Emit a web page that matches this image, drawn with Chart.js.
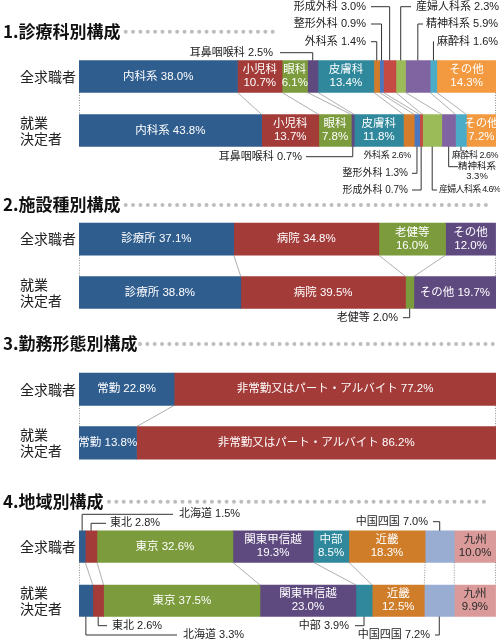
<!DOCTYPE html>
<html><head><meta charset="utf-8">
<script src="https://cdn.jsdelivr.net/npm/chart.js@4"></script>
<style>
html,body{margin:0;padding:0;background:#fff;width:500px;height:643px;overflow:hidden}
canvas{position:absolute;left:0}
</style></head><body>
<canvas id="c1" width="500" height="196" style="top:0px"></canvas>
<canvas id="c2" width="500" height="134" style="top:196px"></canvas>
<canvas id="c3" width="500" height="148" style="top:330px"></canvas>
<canvas id="c4" width="500" height="165" style="top:478px"></canvas>
<script>
// ---- data ----
const rowLabels = ['全求職者', ['就業', '決定者']];

const deptCategories = ['内科系','小児科','眼科','耳鼻咽喉科','皮膚科','外科系','整形外科','形成外科','産婦人科系','精神科系','麻酔科','その他'];
const deptAll   = [38.0, 10.7, 6.1, 2.5, 13.4, 1.4, 0.9, 3.0, 2.3, 5.9, 1.6, 14.3];
const deptHired = [43.8, 13.7, 7.8, 0.7, 11.8, 2.6, 1.3, 0.7, 4.6, 3.3, 2.6, 7.2];

const facilityCategories = ['診療所','病院','老健等','その他'];
const facilityAll   = [37.1, 34.8, 16.0, 12.0];
const facilityHired = [38.8, 39.5, 2.0, 19.7];

const workCategories = ['常勤','非常勤又はパート・アルバイト'];
const workAll   = [22.8, 77.2];
const workHired = [13.8, 86.2];

const regionCategories = ['北海道','東北','東京','関東甲信越','中部','近畿','中国四国','九州'];
const regionAll   = [1.5, 2.8, 32.6, 19.3, 8.5, 18.3, 7.0, 10.0];
const regionHired = [3.3, 2.6, 37.5, 23.0, 3.9, 12.5, 7.2, 9.9];

// ---- styles ----
const FONT = '"Liberation Sans", "Noto Sans CJK JP", sans-serif';
const CJK = '"Noto Sans CJK JP", sans-serif';

const deptColors = ['#2f5d8e','#a33b39','#7b9b3c','#5f4a80','#2f889c','#d27c2c','#4a78c0','#c44a43','#9bbb59','#8064a2','#4aacc6','#f3993f'];
const facilityColors = ['#2f5d8e','#a33b39','#7b9b3c','#5f4a80'];
const workColors = ['#2f5d8e','#a33b39'];
const regionColors = ['#2f5d8e','#a33b39','#7b9b3c','#5f4a80','#2f889c','#d07d2a','#99acd2','#d99a99'];

function pct(v){ return v.toFixed(1) + '%'; }

const sections = [
 { id:'c1', top:0, height:196, padTop:49.5, padBottom:38.5, thick:32,
   title:'1.診療科別構成', titleY:31.7, dotsFrom:125.7, dotsTo:273,
   categories:deptCategories, all:deptAll, hired:deptHired, colors:deptColors,
   inbar:[['one','two','two',null,'two',null,null,null,null,null,null,'two'],
          ['one','two','two',null,'two',null,null,null,null,null,null,'two']],
   textColors:null,
   callouts:[
     {seg:3,row:0,text:['耳鼻咽喉科 2.5%'],tx:273,ty:52.7,align:'right',lx:280,size:11},
     {seg:5,row:0,text:['外科系 1.4%'],tx:366,ty:41.7,align:'right',lx:371,size:11},
     {seg:6,row:0,text:['整形外科 0.9%'],tx:366,ty:24,align:'right',lx:371,size:11},
     {seg:7,row:0,text:['形成外科 3.0%'],tx:366,ty:6.7,align:'right',lx:371,size:11},
     {seg:8,row:0,text:['産婦人科系 2.3%'],tx:416,ty:6.7,align:'left',lx:411,size:11},
     {seg:9,row:0,text:['精神科系 5.9%'],tx:426,ty:24,align:'left',lx:423,size:11},
     {seg:10,row:0,text:['麻酔科 1.6%'],tx:437,ty:41.7,align:'left',lx:434,size:11},
     {seg:3,row:1,text:['耳鼻咽喉科 0.7%'],tx:302,ty:156.7,align:'right',lx:306,size:11},
     {seg:5,row:1,text:['外科系 2.6%'],tx:411,ty:155.5,align:'right',noLine:true,size:9,ls:-0.3},
     {seg:6,row:1,text:['整形外科 1.3%'],tx:408,ty:173.3,align:'right',lx:412,size:10},
     {seg:7,row:1,text:['形成外科 0.7%'],tx:408,ty:190,align:'right',lx:412,size:10},
     {seg:8,row:1,text:['産婦人科系 4.6%'],tx:439,ty:190,align:'left',lx:437,size:9,ls:-0.7},
     {seg:9,row:1,text:['精神科系','3.3%'],tx:477,ty:166.7,align:'center',lx:458,size:9.5,gap:9.5},
     {seg:10,row:1,text:['麻酔科 2.6%'],tx:452,ty:155.5,align:'left',stub:4,size:9,ls:-0.5}
   ]},
 { id:'c2', top:196, height:134, padTop:15.15, padBottom:10.85, thick:32,
   title:'2.施設種別構成', titleY:205, dotsFrom:125.7, dotsTo:488,
   categories:facilityCategories, all:facilityAll, hired:facilityHired, colors:facilityColors,
   inbar:[['one','one','two','two'],['one','one',null,'one']],
   textColors:null,
   callouts:[
     {seg:2,row:1,text:['老健等 2.0%'],tx:398,ty:317.7,align:'right',lx:403,size:11}
   ]},
 { id:'c3', top:330, height:148, padTop:32.4, padBottom:6.6, thick:32.5,
   title:'3.勤務形態別構成', titleY:344, dotsFrom:140, dotsTo:493,
   categories:workCategories, all:workAll, hired:workHired, colors:workColors,
   inbar:[['one','one'],['one','one']],
   textColors:null, callouts:[] },
 { id:'c4', top:478, height:165, padTop:41.45, padBottom:15.15, thick:31.5,
   title:'4.地域別構成', titleY:501.7, dotsFrom:109, dotsTo:488,
   categories:regionCategories, all:regionAll, hired:regionHired, colors:regionColors,
   inbar:[[null,null,'one','two','two','two',null,'two'],[null,null,'one','two',null,'two',null,'two']],
   textColors:['#fff','#fff','#fff','#fff','#fff','#fff','#fff','#2a2a2a'],
   callouts:[
     {seg:0,row:0,text:['北海道 1.5%'],tx:179,ty:514.3,align:'left',lx:173,size:11},
     {seg:1,row:0,text:['東北 2.8%'],tx:110,ty:523.3,align:'left',lx:106,size:11},
     {seg:6,row:0,text:['中国四国 7.0%'],tx:428,ty:521.7,align:'right',lx:433,size:11},
     {seg:1,row:1,text:['東北 2.6%'],tx:112,ty:625.7,align:'left',lx:107,size:11},
     {seg:0,row:1,text:['北海道 3.3%'],tx:183,ty:635,align:'left',lx:177,size:11},
     {seg:4,row:1,text:['中部 3.9%'],tx:349,ty:625.7,align:'right',lx:355,size:11},
     {seg:6,row:1,text:['中国四国 7.2%'],tx:430,ty:635,align:'right',lx:435,size:11}
   ]}
];

function overlay(cfg){
  return {
    id:'overlay_'+cfg.id,
    afterDatasetsDraw(chart){
      const ctx = chart.ctx;
      const area = chart.chartArea;
      const metas = chart.data.datasets.map((d,i)=>chart.getDatasetMeta(i));
      ctx.save();
      // title
      ctx.font = 'bold 17px ' + CJK;
      ctx.fillStyle = '#111';
      ctx.textBaseline = 'middle';
      ctx.textAlign = 'left';
      ctx.fillText(cfg.title, 3, cfg.titleY - cfg.top);
      // dots
      ctx.fillStyle = '#bdbdbd';
      for (let x = cfg.dotsFrom; x <= cfg.dotsTo + 0.1; x += 7.35) {
        ctx.beginPath(); ctx.arc(x, cfg.titleY - cfg.top, 2, 0, Math.PI*2); ctx.fill();
      }
      // connectors between the two bars
      const e0 = metas[0].data[0], e1 = metas[0].data[1];
      const yA = e0.y + e0.height/2, yB = e1.y - e1.height/2;
      const clampX = x => Math.min(Math.max(x, area.left + 0.5), area.right - 0.5);
      const pairs = [[e0.base, e1.base]];
      metas.forEach(m => pairs.push([m.data[0].x, m.data[1].x]));
      pairs.forEach(([a,b]) => {
        a = clampX(a); b = clampX(b);
        ctx.beginPath();
        if (Math.abs(a-b) < 2) { ctx.setLineDash([1,1.5]); ctx.strokeStyle = '#777'; }
        else { ctx.setLineDash([]); ctx.strokeStyle = '#9a9a9a'; }
        ctx.lineWidth = 0.8;
        ctx.moveTo(a, yA); ctx.lineTo(b, yB); ctx.stroke();
      });
      ctx.setLineDash([]);
      // in-bar labels
      ctx.textAlign = 'center';
      ctx.textBaseline = 'middle';
      ctx.font = '11.5px ' + FONT;
      [0,1].forEach(row => {
        const vals = row === 0 ? cfg.all : cfg.hired;
        cfg.inbar[row].forEach((mode, i) => {
          if (!mode) return;
          const el = metas[i].data[row];
          const cx = (el.x + el.base)/2, cy = el.y;
          ctx.fillStyle = cfg.textColors ? cfg.textColors[i] : '#fff';
          if (mode === 'one') ctx.fillText(cfg.categories[i] + ' ' + pct(vals[i]), cx, cy);
          else {
            ctx.fillText(cfg.categories[i], cx, cy - 6.5);
            ctx.fillText(pct(vals[i]), cx, cy + 6.5);
          }
        });
      });
      // callouts
      cfg.callouts.forEach(c => {
        const el = metas[c.seg].data[c.row];
        const ax = (el.x + el.base)/2;
        const ey = c.row === 0 ? el.y - el.height/2 : el.y + el.height/2;
        const ty = c.ty - cfg.top;
        ctx.strokeStyle = '#333'; ctx.lineWidth = 1;
        if (!c.noLine) {
          ctx.beginPath();
          ctx.moveTo(ax, ey);
          if (c.stub) ctx.lineTo(ax, ey + c.stub);
          else { ctx.lineTo(ax, ty); ctx.lineTo(c.lx, ty); }
          ctx.stroke();
        }
        ctx.fillStyle = '#222';
        ctx.font = c.size + 'px ' + FONT;
        ctx.letterSpacing = (c.ls || 0) + 'px';
        ctx.textAlign = c.align;
        ctx.textBaseline = 'middle';
        c.text.forEach((t, k) => ctx.fillText(t, c.tx, ty + k*(c.gap || 12)));
        ctx.letterSpacing = '0px';
      });
      ctx.restore();
    }
  };
}

sections.forEach(cfg => {
  const datasets = cfg.categories.map((name, i) => ({
    label: name,
    data: [cfg.all[i], cfg.hired[i]],
    backgroundColor: cfg.colors[i],
    borderWidth: 0,
    barThickness: cfg.thick
  }));
  new Chart(document.getElementById(cfg.id), {
    type: 'bar',
    data: { labels: rowLabels, datasets },
    options: {
      indexAxis: 'y',
      responsive: false,
      animation: false,
      layout: { padding: { left: 20, right: 4, top: cfg.padTop, bottom: cfg.padBottom } },
      scales: {
        x: { stacked: true, min: 0, max: 100, display: false },
        y: { stacked: true, grid: { display: false }, border: { display: false },
             ticks: { crossAlign: 'far', color: '#222', padding: 0,
                      font: { size: 14, family: CJK, lineHeight: 1.18 } },
             afterFit: s => { s.width = 59; } }
      },
      plugins: { legend: { display: false }, tooltip: { enabled: false } }
    },
    plugins: [overlay(cfg)]
  });
});
</script>
</body></html>
